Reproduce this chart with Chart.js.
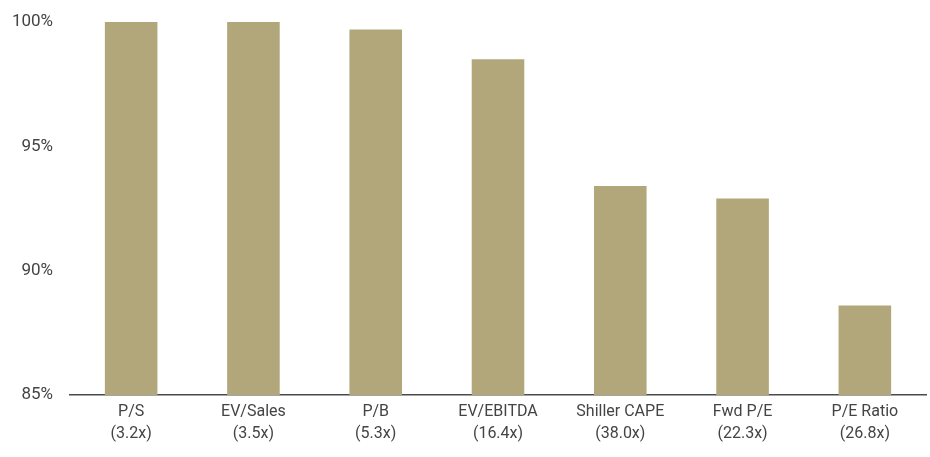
<!DOCTYPE html>
<html>
<head>
<meta charset="utf-8">
<script src="https://cdn.jsdelivr.net/npm/chart.js@4"></script>
<style>
  html, body { margin: 0; padding: 0; background: #fff; }
  #wrap { width: 930px; height: 457px; }
</style>
</head>
<body>
<div id="wrap"><canvas id="chart" width="930" height="457"></canvas></div>
<script>
// Chart data
const categories = [
    ['P/S', '(3.2x)'],
    ['EV/Sales', '(3.5x)'],
    ['P/B', '(5.3x)'],
    ['EV/EBITDA', '(16.4x)'],
    ['Shiller CAPE', '(38.0x)'],
    ['Fwd P/E', '(22.3x)'],
    ['P/E Ratio', '(26.8x)']
];
const percentileValues = [100, 100, 99.7, 98.5, 93.4, 92.9, 88.6];
const yTicks = [85, 90, 95, 100];

const fontFamily = "'Roboto', sans-serif";

const ctx = document.getElementById('chart').getContext('2d');
new Chart(ctx, {
    type: 'bar',
    data: {
        labels: categories,
        datasets: [{
            data: percentileValues,
            backgroundColor: '#b2a77b',
            borderWidth: 0,
            barPercentage: 0.43,
            categoryPercentage: 1.0
        }]
    },
    options: {
        responsive: false,
        animation: false,
        layout: {
            padding: { top: 22, right: 4, left: 0, bottom: 0 }
        },
        plugins: {
            legend: { display: false },
            tooltip: { enabled: false }
        },
        scales: {
            x: {
                grid: { display: false, drawTicks: false },
                border: { display: true, color: '#4a4a4a', width: 1.5 },
                ticks: {
                    color: '#444',
                    padding: 6,
                    maxRotation: 0,
                    font: { family: fontFamily, size: 16, lineHeight: 1.375 }
                },
                afterFit: function(axis) { axis.height = 62; }
            },
            y: {
                min: yTicks[0],
                max: yTicks[yTicks.length - 1],
                afterBuildTicks: function(axis) {
                    axis.ticks = yTicks.map(v => ({ value: v }));
                },
                grid: { display: false, drawTicks: false },
                border: { display: false },
                ticks: {
                    color: '#444',
                    padding: 17,
                    font: { family: fontFamily, size: 17 },
                    callback: v => v + '%'
                },
                afterFit: function(axis) {
                    axis.width = 70;
                    // tick padding should not push the plot area down
                    axis.paddingTop = 0;
                    axis.paddingBottom = 0;
                }
            }
        }
    }
});
</script>
</body>
</html>
